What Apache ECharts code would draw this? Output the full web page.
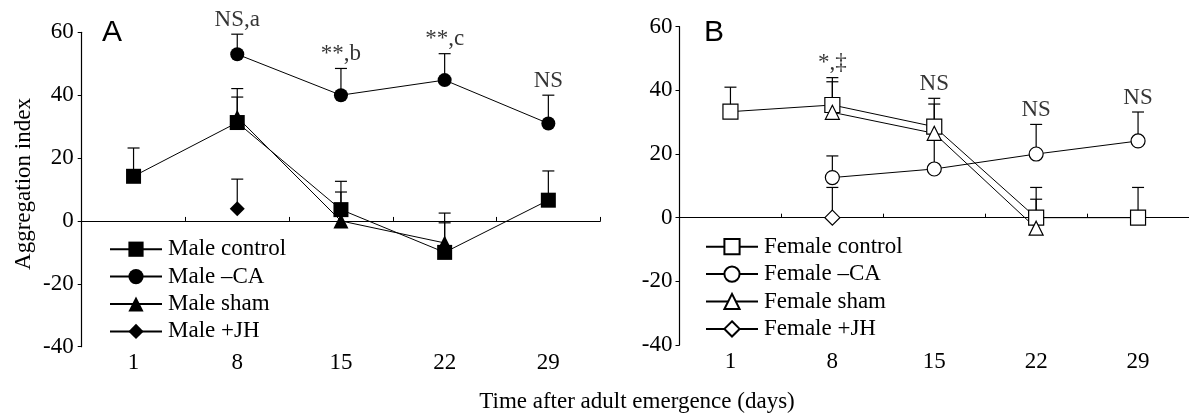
<!DOCTYPE html>
<html><head><meta charset="utf-8">
<script src="https://cdn.jsdelivr.net/npm/echarts@6/dist/echarts.min.js"></script>
<style>html,body{margin:0;padding:0;background:#fff}#c{width:1189px;height:414px}</style>
</head><body><div id="c"></div>
<script>
// ---- data ----
const days = ['1', '8', '15', '22', '29'];
const yMin = -40, yMax = 60, yStep = 20;

// Panel A (males): means and upper error-bar ends
const maleControl      = [14.2, 31.3, 3.6, -10.0, 6.6];
const maleControlUpper = [23.2, 42.1, 12.6, 2.5, 15.9];
const maleCA           = [null, 53.0, 40.0, 44.8, 31.0];
const maleCAUpper      = [null, 59.4, 48.5, 53.2, 40.0];
const maleSham         = [null, 33.0, 0.0, -7.0, null];
const maleShamUpper    = [null, 39.4, 9.2, -0.6, null];
const maleJH           = [null, 3.9, null, null, null];
const maleJHUpper      = [null, 13.3, null, null, null];
const notesA           = ['', 'NS,a', '**,b', '**,c', 'NS'];

// Panel B (females)
const femControl       = [33.3, 35.4, 28.6, 0.0, 0.0];
const femControlUpper  = [41.0, 44.0, 35.7, 9.5, 9.5];
const femCA            = [null, 12.6, 15.3, 20.0, 24.1];
const femCAUpper       = [null, 19.4, 24.5, 29.3, 33.2];
const femSham          = [null, 33.1, 26.5, -3.3, null];
const femShamUpper     = [null, 42.7, 37.5, 5.8, null];
const femJH            = [null, 0.0, null, null, null];
const femJHUpper       = [null, 9.5, null, null, null];
const notesB           = ['', '*,\u2021', 'NS', 'NS', 'NS'];

const namesA = ['Male control', 'Male \u2013CA', 'Male sham', 'Male +JH'];
const namesB = ['Female control', 'Female \u2013CA', 'Female sham', 'Female +JH'];

// ---- chart ----
const SERIF = '"Liberation Serif", "Times New Roman", serif';
const SANS = '"Liberation Sans", Arial, sans-serif';
const chart = echarts.init(document.getElementById('c'), null, {renderer: 'canvas'});

function errData(vals, ups) {
  const out = [];
  vals.forEach((v, i) => { if (v !== null && ups[i] !== null) out.push([i, v, ups[i]]); });
  return out;
}
function errRender(params, api) {
  const i = api.value(0);
  const p0 = api.coord([i, api.value(1)]);
  const p1 = api.coord([i, api.value(2)]);
  const w = 6;
  return {type: 'group', children: [
    {type: 'line', shape: {x1: p0[0], y1: p0[1], x2: p1[0], y2: p1[1]}, style: {stroke: '#000', lineWidth: 1.2}},
    {type: 'line', shape: {x1: p1[0] - w, y1: p1[1], x2: p1[0] + w, y2: p1[1]}, style: {stroke: '#000', lineWidth: 1.2}}
  ]};
}
let errCount = 0;
function errSeries(vals, ups, idx) {
  errCount++;
  return {type: 'custom', name: 'err' + idx + '_' + errCount, xAxisIndex: idx, yAxisIndex: idx, z: 1,
    renderItem: errRender, data: errData(vals, ups), silent: true};
}
function lineSeries(name, vals, idx, symbol, size, filled) {
  return {type: 'line', name: name, xAxisIndex: idx, yAxisIndex: idx, data: vals, z: 5,
    symbol: symbol, symbolSize: size, showSymbol: true, connectNulls: false,
    lineStyle: {color: '#000', width: 1},
    itemStyle: filled ? {color: '#000', borderColor: '#000', borderWidth: 0}
                      : {color: '#fff', borderColor: '#000', borderWidth: 1.2},
    emphasis: {disabled: true}};
}
function noteSeries(notes, upperLists, idx) {
  const data = [];
  notes.forEach((t, i) => {
    if (!t) return;
    let m = -Infinity;
    upperLists.forEach(u => { if (u[i] !== null && u[i] > m) m = u[i]; });
    data.push({value: [i, m], label: {formatter: t}});
  });
  return {type: 'scatter', name: 'notes' + idx, xAxisIndex: idx, yAxisIndex: idx, z: 0,
    symbolSize: 0, clip: false, silent: true, data: data,
    label: {show: true, position: 'top', distance: 3, color: '#000', fontFamily: SERIF, fontSize: 23},
    markLine: {silent: true, symbol: 'none', label: {show: false},
      lineStyle: {color: '#000', width: 1.2, type: 'solid'}, data: [{yAxis: 0}]}};
}

function xAx(idx) {
  return {type: 'category', gridIndex: idx, data: days, boundaryGap: true,
    axisLine: {lineStyle: {color: '#000', width: 1.2}},
    axisTick: {show: true, length: 4, inside: true, lineStyle: {color: '#000'}},
    axisLabel: {color: '#000', fontFamily: SERIF, fontSize: 23, margin: 5},
    splitLine: {show: false}};
}
function yAx(idx, margin) {
  return {type: 'value', gridIndex: idx, min: yMin, max: yMax, interval: yStep,
    axisLine: {show: true, lineStyle: {color: '#000', width: 1.2}},
    axisTick: {show: true, length: 4, lineStyle: {color: '#000'}},
    axisLabel: {color: '#000', fontFamily: SERIF, fontSize: 23, margin: margin},
    splitLine: {show: false}};
}
function legend(names, left, top) {
  return {data: names, left: left, top: top, orient: 'vertical', itemWidth: 52, itemHeight: 19,
    itemGap: 0, selectedMode: false,
    textStyle: {color: '#000', fontFamily: SERIF, fontSize: 23, lineHeight: 27.4, padding: [0, 0, 0, 1]}};
}

const option = {
  animation: false,
  backgroundColor: '#fff',
  grid: [
    {left: 81.7, top: 32.3, width: 518.5, height: 314.4},
    {left: 679.5, top: 26.7, width: 519, height: 318.3}
  ],
  xAxis: [xAx(0), xAx(1)],
  yAxis: [yAx(0, 8), yAx(1, 7)],
  legend: [legend(namesA, 104, 230.5), legend(namesB, 700, 228)],
  graphic: [
    {type: 'text', x: 24, y: 184, rotation: Math.PI / 2,
      style: {text: 'Aggregation index', font: '23px ' + SERIF, fill: '#000', align: 'center', verticalAlign: 'middle'}},
    {type: 'text', x: 637, y: 402,
      style: {text: 'Time after adult emergence (days)', font: '23px ' + SERIF, fill: '#000', align: 'center', verticalAlign: 'middle'}},
    {type: 'text', x: 112, y: 33,
      style: {text: 'A', font: '30px ' + SANS, fill: '#000', align: 'center', verticalAlign: 'middle'}},
    {type: 'text', x: 714, y: 33,
      style: {text: 'B', font: '30px ' + SANS, fill: '#000', align: 'center', verticalAlign: 'middle'}}
  ],
  series: [
    noteSeries(notesA, [maleControlUpper, maleCAUpper, maleShamUpper, maleJHUpper], 0),
    errSeries(maleControl, maleControlUpper, 0),
    errSeries(maleCA, maleCAUpper, 0),
    errSeries(maleSham, maleShamUpper, 0),
    errSeries(maleJH, maleJHUpper, 0),
    lineSeries(namesA[2], maleSham, 0, 'triangle', 15, true),
    lineSeries(namesA[3], maleJH, 0, 'diamond', 15, true),
    lineSeries(namesA[1], maleCA, 0, 'circle', 14, true),
    lineSeries(namesA[0], maleControl, 0, 'rect', 15, true),

    noteSeries(notesB, [femControlUpper, femCAUpper, femShamUpper, femJHUpper], 1),
    errSeries(femControl, femControlUpper, 1),
    errSeries(femCA, femCAUpper, 1),
    errSeries(femSham, femShamUpper, 1),
    errSeries(femJH, femJHUpper, 1),
    lineSeries(namesB[3], femJH, 1, 'diamond', 15, false),
    lineSeries(namesB[1], femCA, 1, 'circle', 14, false),
    lineSeries(namesB[0], femControl, 1, 'rect', 15, false),
    lineSeries(namesB[2], femSham, 1, 'triangle', 14, false)
  ]
};
chart.setOption(option);
</script>
</body></html>
